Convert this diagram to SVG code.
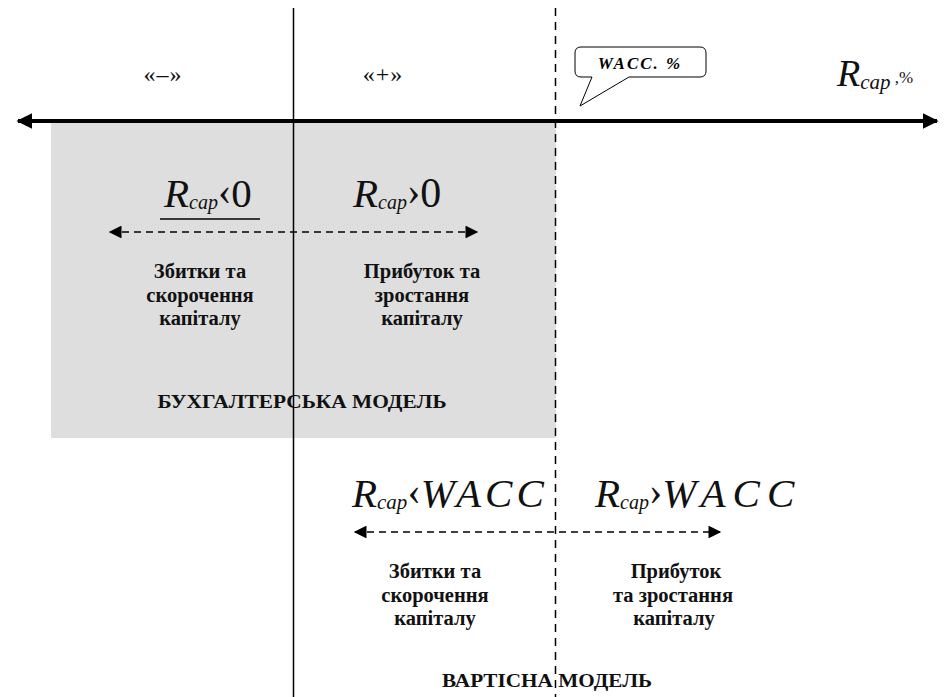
<svg xmlns="http://www.w3.org/2000/svg" width="945" height="697" viewBox="0 0 945 697" font-family="'Liberation Serif', serif">
<defs>
<marker id="big" viewBox="0 0 10 10" refX="9" refY="5" markerWidth="4" markerHeight="4" orient="auto-start-reverse" markerUnits="strokeWidth"><path d="M0,0 L10,5 L0,10 z" fill="#000"/></marker>
<marker id="sm" viewBox="0 0 10 10" refX="9" refY="5" markerWidth="9" markerHeight="8" orient="auto-start-reverse" markerUnits="strokeWidth"><path d="M0,0 L10,5 L0,10 z" fill="#000"/></marker>
</defs>
<style>
.lbl{font-weight:bold;font-size:20.5px;text-anchor:middle;fill:#111}
.head{font-weight:bold;font-size:19px;text-anchor:middle;fill:#111}
.math{font-style:italic;fill:#111}
.up{font-style:normal}
.br{font-style:normal;font-size:40px}
.sign{font-size:24px;text-anchor:middle;fill:#111}
</style>
<rect x="51" y="123" width="505" height="315" fill="#dedede"/>
<g id="connectors">
<line x1="18" y1="121" x2="937" y2="121" stroke="#000" stroke-width="4" marker-start="url(#big)" marker-end="url(#big)"/>
<line x1="293.5" y1="8" x2="293.5" y2="697" stroke="#000" stroke-width="1.5"/>
<line x1="555.5" y1="8" x2="555.5" y2="697" stroke="#000" stroke-width="1.5" stroke-dasharray="8,6"/>
<line x1="110" y1="232" x2="477" y2="232" stroke="#000" stroke-width="1.6" stroke-dasharray="7,5" marker-start="url(#sm)" marker-end="url(#sm)"/>
<line x1="355" y1="532" x2="720" y2="532" stroke="#000" stroke-width="1.6" stroke-dasharray="7,5" marker-start="url(#sm)" marker-end="url(#sm)"/>
<line x1="160" y1="219" x2="260" y2="219" stroke="#000" stroke-width="1.3"/>
</g>
<g id="signs">
<text class="sign" font-family="'Liberation Serif'" x="163" y="82" letter-spacing="1">«–»</text>
<text class="sign" font-family="'Liberation Serif'" x="383" y="82" letter-spacing="1">«+»</text>
</g>
<g id="callout">
<path d="M581,47 H700 Q706,47 706,53 V71 Q706,77 700,77 H629 L580,106 L592,77 H581 Q575,77 575,71 V53 Q575,47 581,47 Z" fill="#fff" stroke="#000" stroke-width="1"/>
<text x="640" y="69" font-family="'Liberation Serif'" font-weight="bold" font-style="italic" font-size="17" text-anchor="middle" letter-spacing="2">WACC. %</text>
</g>
<g id="axis-label">
<text class="math" font-family="'Liberation Serif'" x="837" y="86" font-size="38">R<tspan font-size="21" dy="3">cap</tspan><tspan class="up" font-size="17" dy="-6"> ,%</tspan></text>
</g>
<g id="acc-neg">
<text class="math" font-family="'Liberation Serif'" x="164" y="207" font-size="41">R<tspan font-size="20" dy="2">cap</tspan><tspan class="br" dy="-5">‹</tspan><tspan class="up" font-size="41" dy="3">0</tspan></text>
<text class="lbl" font-family="'Liberation Serif'" x="200" y="278">Збитки та</text>
<text class="lbl" font-family="'Liberation Serif'" x="200" y="302">скорочення</text>
<text class="lbl" font-family="'Liberation Serif'" x="200" y="325">капіталу</text>
</g>
<g id="acc-pos">
<text class="math" font-family="'Liberation Serif'" x="353" y="207" font-size="41">R<tspan font-size="20" dy="2">cap</tspan><tspan class="br" dy="-5">›</tspan><tspan class="up" font-size="42" dy="3">0</tspan></text>
<text class="lbl" font-family="'Liberation Serif'" x="422" y="278">Прибуток та</text>
<text class="lbl" font-family="'Liberation Serif'" x="422" y="302">зростання</text>
<text class="lbl" font-family="'Liberation Serif'" x="422" y="325">капіталу</text>
</g>
<g id="acc-model">
<text class="head" font-family="'Liberation Serif'" x="302" y="408" textLength="289" lengthAdjust="spacingAndGlyphs">БУХГАЛТЕРСЬКА МОДЕЛЬ</text>
</g>
<g id="val-neg">
<text class="math" font-family="'Liberation Serif'" x="352" y="507" font-size="41">R<tspan font-size="21" dy="2">cap</tspan><tspan class="br" dy="-5">‹</tspan><tspan dy="3" letter-spacing="4">WACC</tspan></text>
<text class="lbl" font-family="'Liberation Serif'" x="435" y="578">Збитки та</text>
<text class="lbl" font-family="'Liberation Serif'" x="435" y="602">скорочення</text>
<text class="lbl" font-family="'Liberation Serif'" x="435" y="625">капіталу</text>
</g>
<g id="val-pos">
<text class="math" font-family="'Liberation Serif'" x="595" y="507" font-size="41">R<tspan font-size="20" dy="2">cap</tspan><tspan class="br" dy="-5">›</tspan><tspan dy="3" letter-spacing="7">WACC</tspan></text>
<text class="lbl" font-family="'Liberation Serif'" x="676" y="578">Прибуток</text>
<text class="lbl" font-family="'Liberation Serif'" x="673" y="602">та зростання</text>
<text class="lbl" font-family="'Liberation Serif'" x="674" y="625">капіталу</text>
</g>
<g id="val-model">
<text class="head" font-family="'Liberation Serif'" x="547" y="687" textLength="210" lengthAdjust="spacingAndGlyphs">ВАРТІСНА МОДЕЛЬ</text>
</g>
</svg>
